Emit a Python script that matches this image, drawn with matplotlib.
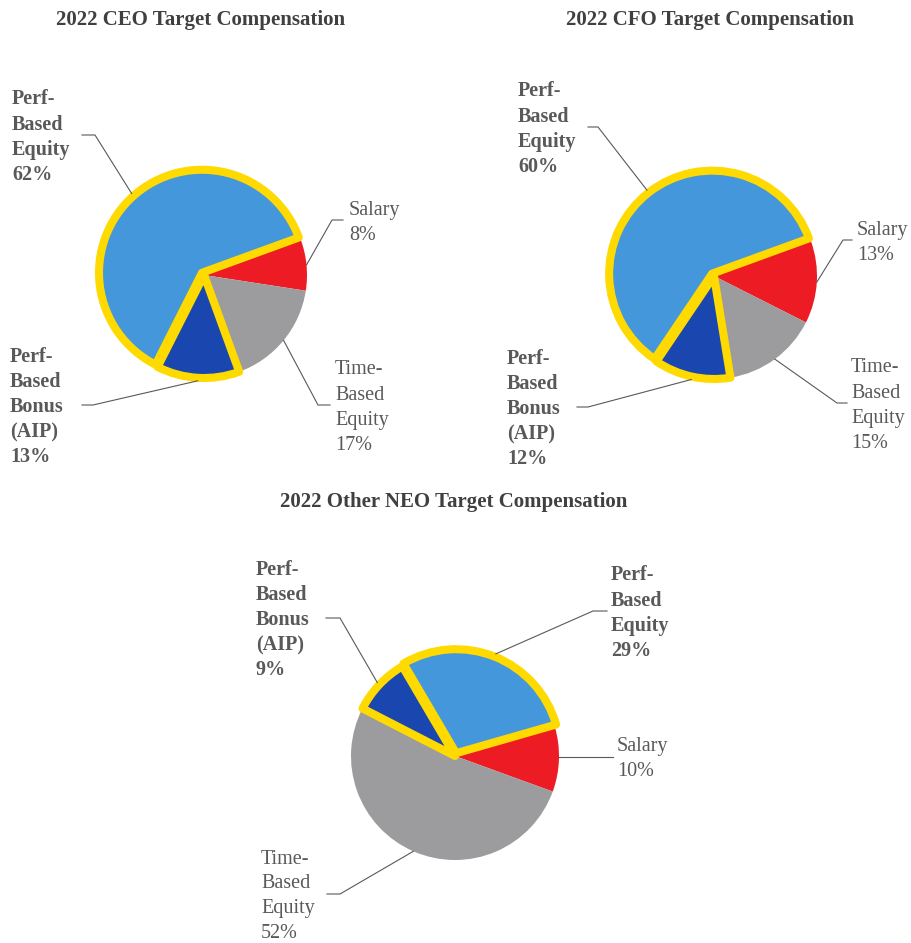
import math
import matplotlib
matplotlib.use("Agg")
import matplotlib.pyplot as plt

W, H = 912, 943

# ---------------- data ----------------
categories = ["Salary", "Time-Based Equity", "Perf-Based Bonus (AIP)", "Perf-Based Equity"]
label_texts = ["Salary", "Time-\nBased\nEquity", "Perf-\nBased\nBonus\n(AIP)", "Perf-\nBased\nEquity"]
perf_based = [False, False, True, True]
ceo_values = [8, 17, 13, 62]
cfo_values = [13, 15, 12, 60]
neo_values = [10, 52, 9, 29]
titles = ["2022 CEO Target Compensation",
          "2022 CFO Target Compensation",
          "2022 Other NEO Target Compensation"]

# ---------------- style ----------------
colors = ["#ED1C24", "#9C9C9E", "#1A46B0", "#4597DB"]
YELLOW = "#FFDA00"
TEXT = "#595959"
TITLE = "#404040"
FONT = "Liberation Serif"

fig = plt.figure(figsize=(W / 100, H / 100), dpi=100)
ax = fig.add_axes([0, 0, 1, 1])


def Y(y):
    return H - y


# label layout: (text_x, elbow_x, end_x, y_center) in pixel coordinates
charts = [
    dict(values=ceo_values, title=titles[0], title_xy=(201, 20), center=(204, 275), r=103, start=20,
         labels=[(349, 332, 343, 220), (335, 318, 330, 405), (10, 93, 82, 405), (12, 95, 82, 135)]),
    dict(values=cfo_values, title=titles[1], title_xy=(710, 20), center=(714, 276), r=103, start=20,
         labels=[(857, 843, 852, 240), (851, 837, 847, 403), (507, 588, 577, 407), (518, 598, 588, 127)]),
    dict(values=neo_values, title=titles[2], title_xy=(454, 502), center=(455, 756), r=104, start=16,
         labels=[(617, None, 613, 757), (261, 340, 327, 894), (256, 340, 326, 618), (611, 593, 607, 611)]),
]
explode_px = [0, 0, 0, 3]

LINE_H = 25
for ch in charts:
    cx, cy = ch["center"]
    r = ch["r"]
    wedges, _ = ax.pie(ch["values"], colors=colors, startangle=ch["start"], counterclock=False,
                       center=(cx, Y(cy)), radius=r, explode=explode_px, frame=True,
                       wedgeprops=dict(linewidth=0))
    for w, p in zip(wedges, perf_based):
        if p:
            w.set_edgecolor(YELLOW)
            w.set_linewidth(5.8)
            w.set_joinstyle("round")
        else:
            w.set_edgecolor("none")

    for w, p, txt, v, lay in zip(wedges, perf_based, label_texts, ch["values"], ch["labels"]):
        tx, ex, endx, yc = lay
        th = math.radians((w.theta1 + w.theta2) / 2)
        wx, wy = w.center
        rr = r + (3 if p else 0)
        sx, sy = wx + rr * math.cos(th), wy + rr * math.sin(th)
        if ex is None:
            xs, ys = [sx, endx], [Y(yc), Y(yc)]
        else:
            xs, ys = [sx, ex, endx], [sy, Y(yc), Y(yc)]
        ax.plot(xs, ys, color=TEXT, lw=0.8, solid_joinstyle="miter", zorder=5)
        lines = (txt + "\n" + f"{v}%").split("\n")
        n = len(lines)
        for i, line in enumerate(lines):
            yi = yc + (i - (n - 1) / 2) * LINE_H
            ax.text(tx, Y(yi + 7), line, ha="left", va="baseline", fontsize=14.5,
                    fontweight="bold" if p else "normal", color=TEXT, family=FONT)

    tx, ty = ch["title_xy"]
    ax.text(tx, Y(ty), ch["title"], ha="center", va="center", fontsize=15,
            fontweight="bold", color=TITLE, family=FONT)

ax.set_xlim(0, W)
ax.set_ylim(0, H)
ax.set_aspect("auto")
ax.axis("off")

fig.savefig("out.png", dpi=100, facecolor="white")
